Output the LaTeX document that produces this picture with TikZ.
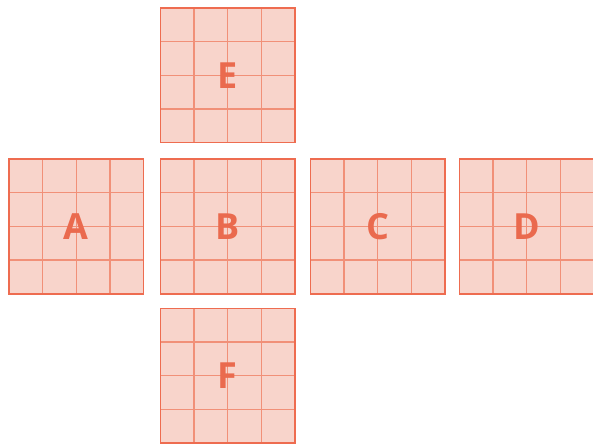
\documentclass[tikz,border=0pt]{standalone}
\usepackage{fontspec}
\setmainfont{Open Sans}
\usetikzlibrary{calc}
\definecolor{facefill}{HTML}{F8D4CB}
\definecolor{faceedge}{HTML}{EE6C50}
\definecolor{facegrid}{HTML}{F19078}
\definecolor{facetext}{HTML}{EA6A4E}
\begin{document}
\begin{tikzpicture}[x=1pt,y=-1pt,
  facebox/.style={fill=facefill,draw=none,minimum width=134.5pt,minimum height=134.5pt,inner sep=0pt,outer sep=0pt,anchor=north west},
  facelabel/.style={text=facetext,font=\bfseries\fontsize{36}{36}\selectfont}]
\useasboundingbox (0,0) rectangle (593,446);
\newcommand{\cubeface}[4]{%
  \node[facebox] (#1) at (#2,#3) {};
  \foreach \k in {1,2,3}{
    \draw[facegrid,line width=1.3pt] ($(#1.north west)!\k/4!(#1.north east)$) -- ($(#1.south west)!\k/4!(#1.south east)$);
    \draw[facegrid,line width=1.3pt] ($(#1.north west)!\k/4!(#1.south west)$) -- ($(#1.north east)!\k/4!(#1.south east)$);
  }
  \draw[faceedge,line width=1.7pt] (#1.north west) rectangle (#1.south east);
  \node[facelabel] (#1lbl) at (#1.center) {#4};
}
\cubeface{fA}{9}{159.2}{A}
\cubeface{fB}{160.5}{159.2}{B}
\cubeface{fC}{310.5}{159.2}{C}
\cubeface{fD}{459.5}{159.2}{D}
\cubeface{fE}{160.5}{8}{E}
\cubeface{fF}{160.5}{308.5}{F}
\end{tikzpicture}
\end{document}
